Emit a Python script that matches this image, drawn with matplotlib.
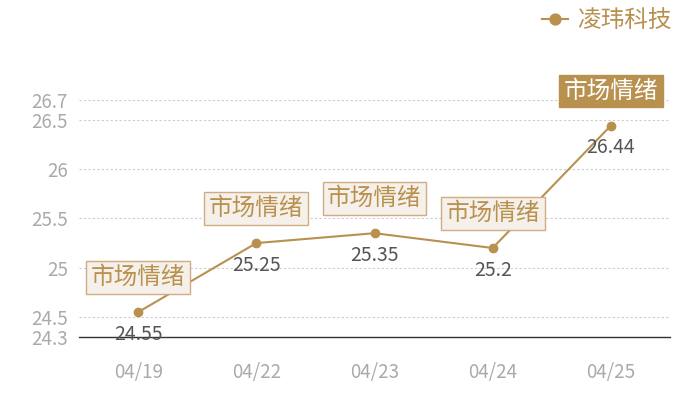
import matplotlib.pyplot as plt

plt.rcParams['font.family'] = ['Noto Sans CJK SC', 'DejaVu Sans']

dates = ['04/19', '04/22', '04/23', '04/24', '04/25']
prices = [24.55, 25.25, 25.35, 25.2, 26.44]
y_ticks = [24.3, 24.5, 25, 25.5, 26, 26.5, 26.7]
tag = '市场情绪'
series_name = '凌玮科技'

gold = '#b8914f'

fig = plt.figure(figsize=(7, 4), dpi=100)
ax = fig.add_axes([0.113, 0.158, 0.844, 0.592])

x = list(range(len(dates)))
ax.plot(x, prices, color=gold, lw=1.5, marker='o', ms=6, label=series_name, zorder=3)

for i, v in enumerate(prices):
    ax.annotate(f'{v:g}', (i, v), xytext=(0, -16), textcoords='offset points',
                ha='center', va='center', fontsize=14, color='#555555', zorder=4)
    last = i == len(prices) - 1
    ax.annotate(tag, (i, v), xytext=(0, 25), textcoords='offset points',
                ha='center', va='center', fontsize=17,
                color='white' if last else gold, zorder=5,
                bbox=dict(boxstyle='square,pad=0.2',
                          fc=gold if last else '#f5f0ea',
                          ec=gold if last else '#cfad80', lw=1))

ax.set_xlim(-0.5, len(dates) - 0.5)
ax.set_ylim(24.3, 26.7)
ax.set_xticks(x)
ax.set_xticklabels(dates)
ax.set_yticks(y_ticks)
ax.set_yticklabels([f'{t:g}' for t in y_ticks])
ax.tick_params(axis='both', length=0, labelsize=13.5, colors='#aaaaaa')
ax.tick_params(axis='x', pad=18)
ax.tick_params(axis='y', pad=8)

for t in y_ticks[1:]:
    ax.axhline(t, color='#cccccc', lw=0.8, ls=(0, (2, 2)), zorder=1)

for s in ['top', 'right', 'left']:
    ax.spines[s].set_visible(False)
ax.spines['bottom'].set_color('#333333')
ax.spines['bottom'].set_linewidth(1)

leg = fig.legend(loc='upper right', bbox_to_anchor=(0.99, 1.03), frameon=False,
                 fontsize=17, handlelength=1.1, handletextpad=0.4, markerscale=1.3)
for t in leg.get_texts():
    t.set_color(gold)

fig.savefig('out.png', dpi=100)
